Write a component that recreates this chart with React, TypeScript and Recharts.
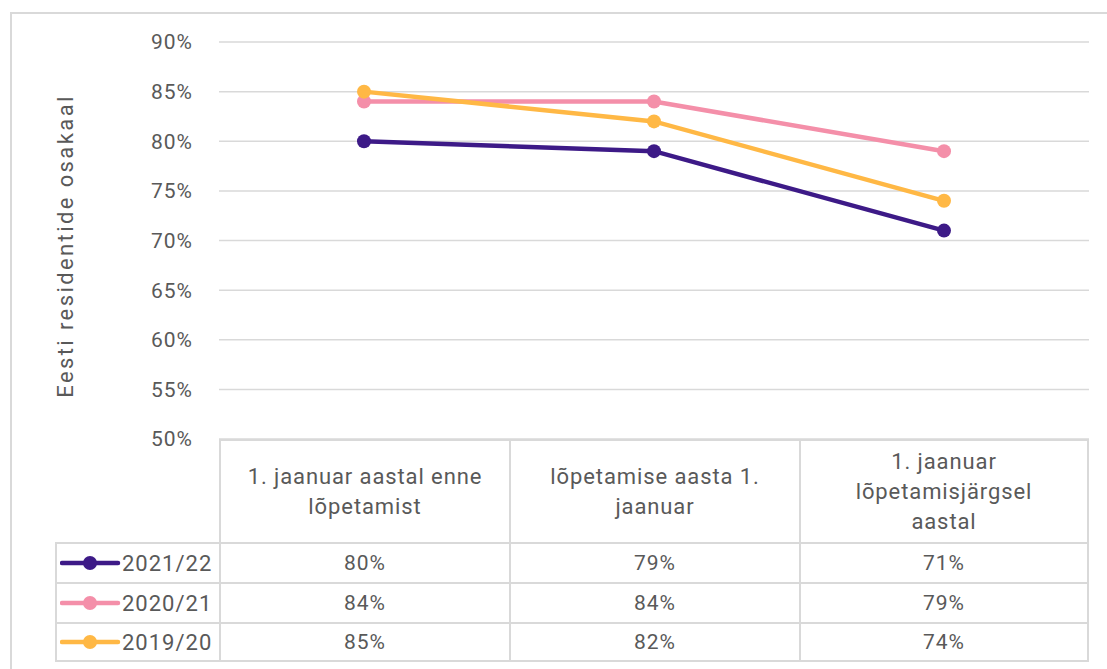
import React from "react";
import { CartesianGrid, Line, LineChart, XAxis, YAxis } from "recharts";

const categories = [
  "1. jaanuar aastal enne lõpetamist",
  "lõpetamise aasta 1. jaanuar",
  "1. jaanuar lõpetamisjärgsel aastal",
];
const headerLines = [
  ["1. jaanuar aastal enne", "lõpetamist"],
  ["lõpetamise aasta 1.", "jaanuar"],
  ["1. jaanuar", "lõpetamisjärgsel", "aastal"],
];
const s2021 = [80, 79, 71];
const s2020 = [84, 84, 79];
const s2019 = [85, 82, 74];
const yTicks = [50, 55, 60, 65, 70, 75, 80, 85, 90];

const series = [
  { key: "y2021", name: "2021/22", values: s2021, color: "#3d1a87" },
  { key: "y2020", name: "2020/21", values: s2020, color: "#f48fa9" },
  { key: "y2019", name: "2019/20", values: s2019, color: "#ffb845" },
];

const data = categories.map((c, i) => ({
  name: c,
  y2021: s2021[i],
  y2020: s2020[i],
  y2019: s2019[i],
}));

const FONT = "Roboto, 'Noto Sans', sans-serif";
const TEXT = "#595959";
const BORDER = "#d9d9d9";

// table geometry
const PLOT_L = 219;
const COL_W = 290;
const TABLE_TOP = 439;
const HEAD_H = 103;
const ROW_H = 40;
const LEG_L = 55;

export default function App() {
  return (
    <div
      style={{
        position: "absolute",
        left: 0,
        top: 0,
        width: 1107,
        height: 669,
        background: "#fff",
        fontFamily: FONT,
        overflow: "hidden",
      }}
    >
      <div
        style={{
          position: "absolute",
          left: 10,
          top: 12,
          width: 1110,
          height: 670,
          borderLeft: `2px solid ${BORDER}`,
          borderTop: `2px solid ${BORDER}`,
        }}
      />
      <div style={{ position: "absolute", left: 0, top: 0 }}>
        <LineChart
          width={1107}
          height={669}
          data={data}
          margin={{ top: 42, right: 18, bottom: 230, left: 0 }}
        >
          <CartesianGrid stroke={BORDER} strokeWidth={1.5} vertical={false} />
          <XAxis dataKey="name" scale="band" hide />
          <YAxis
            width={219}
            domain={[50, 90]}
            ticks={yTicks}
            interval={0}
            axisLine={false}
            tickLine={false}
            tickSize={0}
            tickMargin={26}
            tickFormatter={(v) => `${v}%`}
            tick={{ fill: TEXT, fontSize: 21, fontFamily: FONT, letterSpacing: 1 }}
          />
          {series.map((s) => (
            <Line
              key={s.key}
              dataKey={s.key}
              name={s.name}
              stroke={s.color}
              strokeWidth={4.5}
              dot={{ r: 7, fill: s.color, stroke: s.color, strokeWidth: 0 }}
              isAnimationActive={false}
            />
          ))}
        </LineChart>
      </div>

      {/* y axis title */}
      <div
        style={{
          position: "absolute",
          left: 66,
          top: 246,
          transform: "translate(-50%, -50%) rotate(-90deg)",
          whiteSpace: "nowrap",
          color: TEXT,
          fontSize: 22,
          letterSpacing: 2.4,
          lineHeight: "26px",
        }}
      >
        Eesti residentide osakaal
      </div>

      {/* data table */}
      {headerLines.map((lines, i) => (
        <div
          key={"h" + i}
          style={{
            position: "absolute",
            left: PLOT_L + i * COL_W,
            top: TABLE_TOP,
            width: COL_W,
            height: HEAD_H,
            boxSizing: "border-box",
            borderLeft: `2px solid ${BORDER}`,
            borderTop: `2px solid ${BORDER}`,
            borderRight: i === 2 ? `2px solid ${BORDER}` : undefined,
            display: "flex",
            flexDirection: "column",
            justifyContent: "center",
            alignItems: "center",
            color: TEXT,
            fontSize: 22,
            letterSpacing: 0.9,
            lineHeight: "30px",
          }}
        >
          {lines.map((l) => (
            <div key={l}>{l}</div>
          ))}
        </div>
      ))}
      {series.map((s, r) => (
        <React.Fragment key={s.key}>
          <div
            style={{
              position: "absolute",
              left: LEG_L,
              top: TABLE_TOP + HEAD_H + r * ROW_H,
              width: PLOT_L - LEG_L,
              height: ROW_H,
              boxSizing: "border-box",
              borderLeft: `2px solid ${BORDER}`,
              borderTop: `2px solid ${BORDER}`,
              borderBottom: r === 2 ? `2px solid ${BORDER}` : undefined,
              display: "flex",
              alignItems: "center",
              color: TEXT,
              fontSize: 22,
              letterSpacing: 1,
            }}
          >
            <svg width={62} height={20} style={{ marginLeft: 3, flexShrink: 0 }}>
              <line x1={2} y1={10} x2={58} y2={10} stroke={s.color} strokeWidth={4.5} strokeLinecap="round" />
              <circle cx={30} cy={10} r={7} fill={s.color} />
            </svg>
            <span>{s.name}</span>
          </div>
          {s.values.map((v, i) => (
            <div
              key={i}
              style={{
                position: "absolute",
                left: PLOT_L + i * COL_W,
                top: TABLE_TOP + HEAD_H + r * ROW_H,
                width: COL_W,
                height: ROW_H,
                boxSizing: "border-box",
                borderLeft: `2px solid ${BORDER}`,
                borderTop: `2px solid ${BORDER}`,
                borderRight: i === 2 ? `2px solid ${BORDER}` : undefined,
                borderBottom: r === 2 ? `2px solid ${BORDER}` : undefined,
                display: "flex",
                alignItems: "center",
                justifyContent: "center",
                color: TEXT,
                fontSize: 21,
                letterSpacing: 1,
              }}
            >
              {v}%
            </div>
          ))}
        </React.Fragment>
      ))}
    </div>
  );
}
